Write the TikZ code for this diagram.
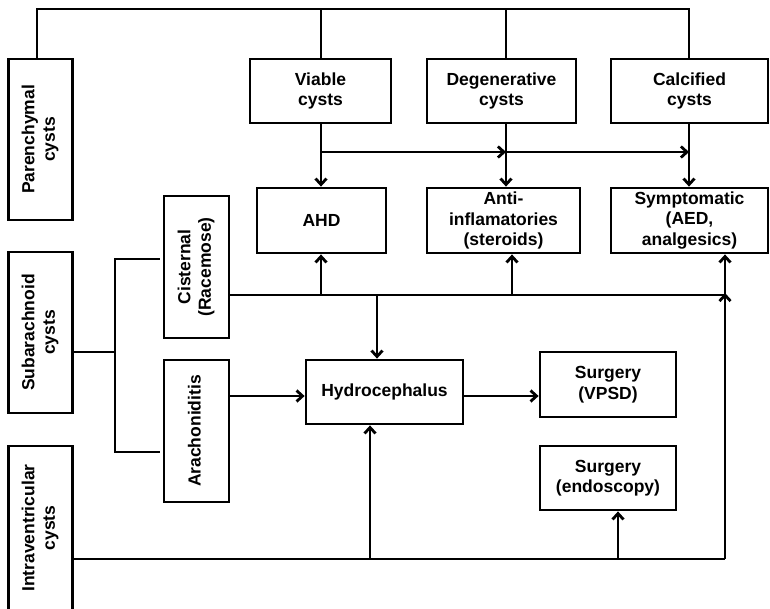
\documentclass[tikz,border=0pt]{standalone}
\usepackage{fontspec}
\setmainfont{Liberation Sans}
\usetikzlibrary{arrows.meta}
\newcommand{\rtext}[1]{\rotatebox{90}{\begin{tabular}{@{}c@{}}#1\end{tabular}}}
\begin{document}
\begin{tikzpicture}[x=1pt,y=-1pt,
  line width=2.8pt,
  box/.style={draw,line width=2.8pt,inner sep=2pt,align=center,
    font=\bfseries\fontsize{17.5}{20.5}\selectfont},
  arr/.style={-{Straight Barb[length=6pt,width=11pt]}}]
\useasboundingbox (0,0) rectangle (770,608);
% nodes
\node[box,minimum width=64,minimum height=161] (par) at (40.5,139.5) {\rtext{Parenchymal\\cysts}};
\node[box,minimum width=64,minimum height=161] (sub) at (40.5,332.5) {\rtext{Subarachnoid\\cysts}};
\node[box,minimum width=64,minimum height=164] (intra) at (40.5,528) {\rtext{Intraventricular\\cysts}};
\node[box,minimum width=141,minimum height=64] (viable) at (320.5,91) {Viable\\cysts};
\node[box,minimum width=149,minimum height=64] (degen) at (501.5,91) {Degenerative\\cysts};
\node[box,minimum width=157,minimum height=64] (calcified) at (689.5,91) {Calcified\\cysts};
\node[box,minimum width=129,minimum height=65] (ahd) at (321.5,220.5) {AHD};
\node[box,minimum width=153,minimum height=65] (anti) at (503.5,220.5) {Anti-\\inflamatories\\(steroids)};
\node[box,minimum width=157,minimum height=65] (symp) at (689.5,220.5) {Symptomatic\\(AED,\\analgesics)};
\node[box,minimum width=65,minimum height=142] (cist) at (196.5,267) {\rtext{Cisternal\\(Racemose)}};
\node[box,minimum width=65,minimum height=142] (arach) at (196.5,431) {\rtext{Arachoniditis}};
\node[box,minimum width=157,minimum height=64] (hydro) at (384.5,392) {Hydrocephalus};
\node[box,minimum width=136,minimum height=65] (vpsd) at (608,384.5) {Surgery\\(VPSD)};
\node[box,minimum width=136,minimum height=64] (endo) at (608,478) {Surgery\\(endoscopy)};
% helper coordinates
\coordinate (tl) at (37,9);
\coordinate (tr) at (689,9);
\coordinate (xv) at (321,152);
\coordinate (xd) at (506,152);
\coordinate (cy) at (0,295);
\coordinate (ca) at (321,295);
\coordinate (cb) at (512,295);
\coordinate (cc) at (725,295);
\coordinate (ch) at (377,295);
\coordinate (bx) at (115,352);
\coordinate (bt) at (115,259);
\coordinate (bb) at (115,452);
\coordinate (hy) at (0,396);
\coordinate (iy) at (0,559);
\coordinate (ih) at (370,559);
\coordinate (ie) at (618,559);
\coordinate (ir) at (725,559);
% top bus
\draw (tl |- par.north) -- (tl) -- (tr) -- (calcified.north -| tr);
\draw (viable.north -| xv) -- (xv |- tl);
\draw (degen.north -| xd) -- (xd |- tl);
% down arrows
\draw[arr] (viable.south -| xv) -- (ahd.north -| xv);
\draw[arr] (degen.south -| xd) -- (anti.north -| xd);
\draw[arr] (calcified.south -| tr) -- (symp.north -| tr);
\draw[arr] (xv) -- (xd);
\draw[arr] (xd) -- (xd -| tr);
% cisternal bus
\draw (cist.east |- cy) -- (cc);
\draw[arr] (ca) -- (ahd.south -| ca);
\draw[arr] (cb) -- (anti.south -| cb);
\draw[arr] (cc) -- (symp.south -| cc);
\draw[arr] (ch) -- (hydro.north -| ch);
% subarachnoid bracket
\draw (sub.east |- bx) -- (bx);
\draw[line cap=rect] (bt) -- (bb);
\draw[shorten >=3pt] (bt) -- (cist.west |- bt);
\draw[shorten >=3pt] (bb) -- (arach.west |- bb);
% hydrocephalus
\draw[arr] (arach.east |- hy) -- (hydro.west |- hy);
\draw[arr] (hydro.east |- hy) -- (vpsd.west |- hy);
% intraventricular bus
\draw (intra.east |- iy) -- (ir);
\draw[arr] (ir) -- ([yshift=2pt]cc);
\draw[arr] (ih) -- (hydro.south -| ih);
\draw[arr] (ie) -- (endo.south -| ie);
\end{tikzpicture}
\end{document}
